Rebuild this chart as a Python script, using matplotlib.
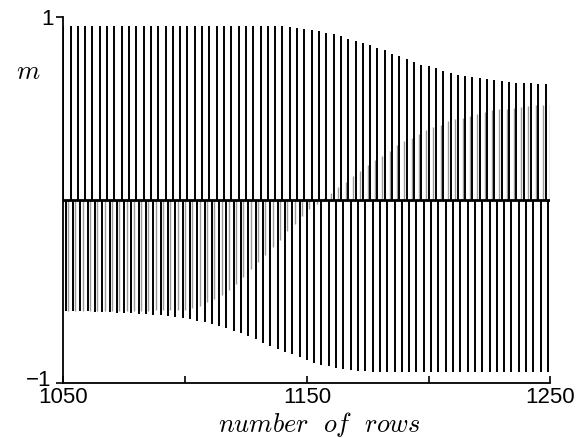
import matplotlib
matplotlib.use("Agg")
import matplotlib.pyplot as plt
import matplotlib.transforms as mtransforms
import numpy as np

plt.rcParams['mathtext.fontset'] = 'cm'
plt.rcParams['font.family'] = ['Liberation Sans', 'DejaVu Sans']

# ---- data ----
x_ticks = [1050, 1150, 1250]
x_minor = [1100, 1200]
y_ticks = [-1, 1]
y_ticklabels = ["\u22121", "1"]

# sublattice A: rows 1050, 1053, ..., 1248 (positive)
rows_a = list(range(1050, 1249, 3))
m_a = [0.95] * 31 + [
    0.945, 0.94, 0.935, 0.93, 0.925, 0.915, 0.905, 0.895, 0.88, 0.87,
    0.86, 0.845, 0.83, 0.82, 0.80, 0.785, 0.77, 0.755, 0.74, 0.73,
    0.72, 0.705, 0.695, 0.685, 0.68, 0.67, 0.665, 0.66, 0.655, 0.65,
    0.645, 0.642, 0.64, 0.638, 0.636, 0.635]

# sublattice B: rows 1051, 1054, ..., 1249 (negative)
rows_b = list(range(1051, 1250, 3))
m_b = [-0.61, -0.61, -0.61, -0.61, -0.615, -0.615, -0.615, -0.62, -0.62,
       -0.62, -0.625, -0.625, -0.63,
       -0.63, -0.635, -0.64, -0.645, -0.65, -0.66, -0.67, -0.68, -0.69,
       -0.70, -0.715, -0.73, -0.745, -0.76, -0.78, -0.80, -0.815, -0.83,
       -0.845, -0.86, -0.875, -0.89, -0.90, -0.91, -0.92, -0.925, -0.93,
       -0.935, -0.937, -0.94] + [-0.94] * 24

# sublattice C: rows 1052, 1055, ..., 1250 (negative -> positive, grey)
rows_c = list(range(1052, 1251, 3))
m_c = [-0.61, -0.61, -0.61, -0.61, -0.61, -0.61, -0.61, -0.61, -0.61,
       -0.605, -0.605, -0.605, -0.60, -0.60, -0.60, -0.60, -0.60,
       -0.59, -0.58, -0.56, -0.54, -0.52, -0.49, -0.46, -0.42, -0.38,
       -0.34, -0.30, -0.26, -0.22, -0.17, -0.13, -0.09, -0.05, -0.02,
       0.01, 0.04, 0.07, 0.10, 0.13, 0.16, 0.19, 0.22, 0.24, 0.27, 0.30,
       0.32, 0.34, 0.36, 0.38, 0.40, 0.41, 0.43, 0.44, 0.45, 0.46, 0.47,
       0.48, 0.49, 0.495, 0.50, 0.505, 0.51, 0.515, 0.52, 0.52, 0.525]

assert len(rows_a) == len(m_a)
assert len(rows_b) == len(m_b)
assert len(rows_c) == len(m_c)

fig = plt.figure(figsize=(5.8, 4.38), dpi=100)
ax = fig.add_axes([0.109, 0.126, 0.840, 0.835])

ax.vlines(rows_c, 0, m_c, color='#9a9a9a', lw=1.0)
ax.vlines(rows_a, 0, m_a, color='black', lw=1.4)
ax.vlines(rows_b, 0, m_b, color='black', lw=1.4)
ax.axhline(0, color='black', lw=2.0)

ax.set_xlim(1050, 1250)
ax.set_ylim(-1, 1)
for s in ['top', 'right']:
    ax.spines[s].set_visible(False)
for s in ['left', 'bottom']:
    ax.spines[s].set_linewidth(1.3)

ax.set_xticks(x_ticks)
ax.set_xticks(x_minor, minor=True)
ax.set_xticklabels([str(t) for t in x_ticks], fontsize=16)
ax.tick_params(axis='x', which='both', direction='in', length=5, width=1.2, pad=3)
ax.set_yticks(y_ticks)
ax.set_yticklabels(y_ticklabels, fontsize=16)
ax.tick_params(axis='y', direction='out', length=5, width=1.2, pad=2)

# lift the "-1" label slightly, as in the reference
lbl = ax.get_yticklabels()[0]
lbl.set_transform(lbl.get_transform() +
                  mtransforms.ScaledTranslation(-0.02, 0.05, fig.dpi_scale_trans))

fig.text(0.048, 0.835, '$m$', fontsize=19, ha='center', va='center')
fig.text(0.55, 0.014, r'$number\ \ of\ \ rows$', fontsize=19, ha='center', va='baseline')

fig.savefig('out.png', dpi=100)
